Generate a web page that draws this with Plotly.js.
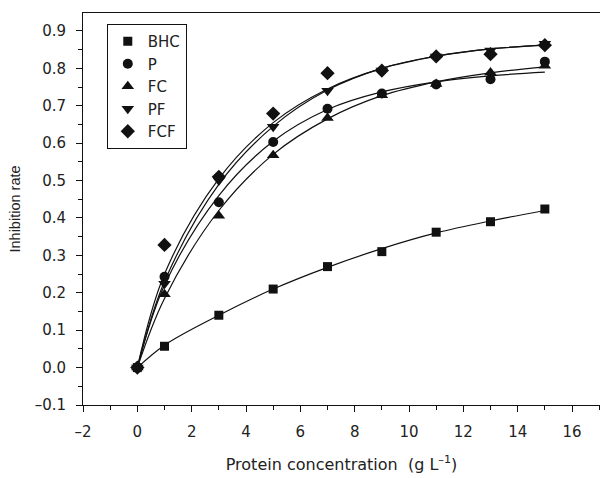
<!DOCTYPE html>
<html><head><meta charset="utf-8">
<script src="https://cdn.plot.ly/plotly-3.0.1.min.js"></script>
<style>body{margin:0;background:#fff}#c{width:600px;height:478px}</style>
</head><body><div id="c"></div>
<script>
const conc = [0, 1, 3, 5, 7, 9, 11, 13, 15];
const BHC = [0, 0.057, 0.140, 0.210, 0.270, 0.310, 0.362, 0.390, 0.424];
const P   = [0, 0.243, 0.442, 0.603, 0.692, 0.733, 0.757, 0.771, 0.818];
const FC  = [0, 0.196, 0.406, 0.568, 0.667, 0.728, 0.758, 0.789, 0.807];
const PF  = [0, 0.224, 0.500, 0.644, 0.740, 0.794, 0.832, 0.848, 0.866];
const FCF = [0, 0.328, 0.510, 0.679, 0.787, 0.794, 0.832, 0.838, 0.862];
// fitted curves
const fitBHC = [0, 0.060, 0.140, 0.210, 0.268, 0.318, 0.360, 0.392, 0.420];
const fitP   = [0, 0.220, 0.460, 0.605, 0.690, 0.737, 0.764, 0.780, 0.790];
const fitFC  = [0, 0.185, 0.420, 0.570, 0.665, 0.727, 0.764, 0.788, 0.804];
const fitPF  = [0, 0.230, 0.490, 0.645, 0.742, 0.800, 0.833, 0.852, 0.862];
const fitFCF = [0, 0.250, 0.505, 0.655, 0.745, 0.800, 0.832, 0.852, 0.862];
const xTicks = [-2, 0, 2, 4, 6, 8, 10, 12, 14, 16];
const xTickText = ['\u20132', '0', '2', '4', '6', '8', '10', '12', '14', '16'];
const yTicks = [-0.1, 0, 0.1, 0.2, 0.3, 0.4, 0.5, 0.6, 0.7, 0.8, 0.9];
const yTickText = ['\u20130.1', '0.0', '0.1', '0.2', '0.3', '0.4', '0.5', '0.6', '0.7', '0.8', '0.9'];

const names = ['BHC', 'P', 'FC', 'PF', 'FCF'];
const vals = [BHC, P, FC, PF, FCF];
const fits = [fitBHC, fitP, fitFC, fitPF, fitFCF];
const symbols = ['square', 'circle', 'triangle-up', 'triangle-down', 'diamond'];
const sizes = [9, 10, 11, 11, 11];

const traces = [];
fits.forEach((f) => traces.push({
  x: conc, y: f, mode: 'lines', line: {color: '#111', width: 1.2, shape: 'spline', smoothing: 1},
  showlegend: false, hoverinfo: 'skip'
}));
vals.forEach((v, i) => traces.push({
  x: conc, y: v, name: names[i], mode: 'markers',
  marker: {symbol: symbols[i], size: sizes[i], color: '#111'}
}));

const fam = 'DejaVu Sans, Liberation Sans, Arial, sans-serif';
const layout = {
  width: 600, height: 478,
  margin: {l: 83, r: 0, t: 13, b: 73},
  paper_bgcolor: '#fff', plot_bgcolor: '#fff',
  font: {family: fam, color: '#222', size: 15},
  showlegend: true,
  legend: {x: 0.046, y: 0.972, xanchor: 'left', yanchor: 'top', bordercolor: '#111', borderwidth: 1,
    bgcolor: '#fff', font: {family: fam, size: 15, color: '#222'}, tracegroupgap: 0, itemwidth: 30},
  xaxis: {
    range: [-2, 17.03], showgrid: false, zeroline: false,
    showline: true, linecolor: '#111', linewidth: 1, mirror: true,
    ticks: 'outside', ticklen: 6, tickcolor: '#111', ticklabelstandoff: 7,
    tickvals: xTicks, ticktext: xTickText, tickfont: {size: 15},
    minor: {ticks: 'outside', ticklen: 4, dtick: 1, tick0: 0, tickcolor: '#111', showgrid: false},
    title: {text: 'Protein concentration  (g L<sup>\u20131</sup>)', standoff: 18, font: {size: 16, color: '#222'}}
  },
  yaxis: {
    range: [-0.1, 0.948], showgrid: false, zeroline: false,
    showline: true, linecolor: '#111', linewidth: 1,
    ticks: 'outside', ticklen: 6, tickcolor: '#111', ticklabelstandoff: 7,
    tickvals: yTicks, ticktext: yTickText, tickfont: {size: 15},
    minor: {ticks: 'outside', ticklen: 4, dtick: 0.05, tick0: 0, tickcolor: '#111', showgrid: false},
    title: {text: 'Inhibition rate', standoff: 10, font: {family: 'Liberation Sans, Arial, sans-serif', size: 14.5, color: '#222'}}
  }
};
Plotly.newPlot('c', traces, layout, {displayModeBar: false, staticPlot: true});
</script></body></html>
